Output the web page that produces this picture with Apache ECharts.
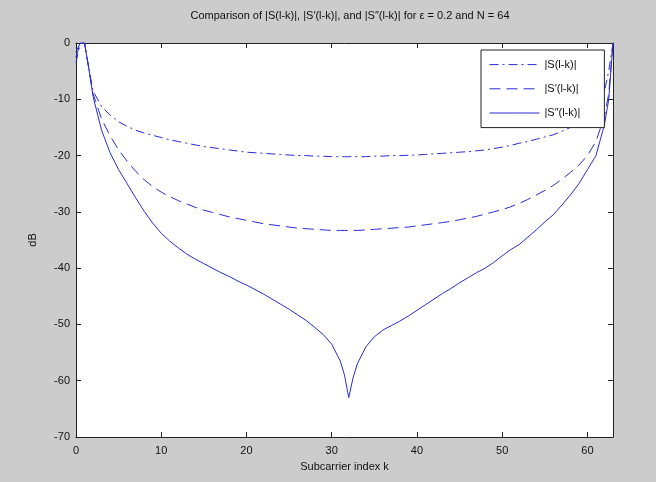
<!DOCTYPE html>
<html lang="en">
<head>
    <meta charset="UTF-8">
    <title>ICI comparison</title>
    <script src="https://cdn.jsdelivr.net/npm/echarts@6/dist/echarts.min.js"></script>
    <style>
        * {
            margin: 0;
            padding: 0;
        }

        #chart {
            width: 656px;
            height: 482px;
            background-color: #cccccc;
        }
    </style>
</head>
<body>
    <div id="chart"></div>
    <script>
        // subcarrier index (a few half steps near the edges where the curves are steep)
        const kIndex = [0, 0.5, 1, 1.5, 2, 3, 4, 5, 6, 7, 8, 9, 10, 11, 12, 13, 14, 15, 16, 17, 18, 19, 20,
            21, 22, 23, 24, 25, 26, 27, 28, 29, 30, 31, 31.5, 32, 32.5, 33, 34, 35, 36, 37, 38, 39, 40,
            41, 42, 43, 44, 45, 46, 47, 48, 49, 50, 51, 52, 53, 54, 55, 56, 57, 58, 59, 60, 61, 62, 62.5, 63]

        // |S(l-k)| in dB
        const sMag = [-3.5, 0, 0, -4.5, -8.5, -11.3, -12.8, -14, -14.8, -15.5, -16, -16.4, -16.8, -17.2, -17.5, -17.8, -18.1, -18.4, -18.6, -18.8, -19, -19.2, -19.4,
            -19.5, -19.6, -19.7, -19.8, -19.9, -20, -20, -20.1, -20.1, -20.2, -20.2, -20.2, -20.2, -20.2, -20.2, -20.2, -20.1, -20.1, -20, -20, -19.95, -19.9,
            -19.8, -19.7, -19.6, -19.5, -19.4, -19.3, -19.15, -19, -18.75, -18.5, -18.2, -17.8, -17.5, -17.1, -16.7, -16.3, -15.7, -15, -14.1, -12.9, -11.3, -8.5, -5, 0]

        // |S'(l-k)| in dB
        const sPrime = [-2.5, 0, 0, -4.5, -9, -13.5, -16.5, -19, -21, -22.8, -24.3, -25.5, -26.5, -27.3, -28, -28.6, -29.2, -29.7, -30.1, -30.5, -30.9, -31.2, -31.5,
            -31.8, -32.1, -32.3, -32.5, -32.7, -32.9, -33, -33.1, -33.2, -33.3, -33.3, -33.3, -33.3, -33.3, -33.3, -33.2, -33.1, -33, -32.9, -32.8, -32.7, -32.5,
            -32.3, -32.1, -31.9, -31.7, -31.4, -31.1, -30.8, -30.4, -30, -29.6, -29.1, -28.5, -27.8, -27, -26.2, -25.3, -24.2, -23, -21.7, -20, -17.5, -13, -9, 0]

        // |S''(l-k)| in dB
        const sDoublePrime = [-1.5, 0, 0, -4.5, -9.5, -15.5, -19.5, -22.5, -25, -27.5, -29.9, -32, -33.8, -35.2, -36.4, -37.5, -38.4, -39.2, -40, -40.8, -41.5, -42.3, -43,
            -43.8, -44.6, -45.5, -46.4, -47.3, -48.3, -49.3, -50.5, -51.8, -53.5, -56.5, -59, -63, -59.5, -57, -54, -52.2, -51, -50.2, -49.4, -48.5, -47.5,
            -46.5, -45.5, -44.5, -43.6, -42.6, -41.7, -40.8, -40, -39, -37.8, -36.7, -35.8, -34.5, -33.2, -31.8, -30.5, -28.8, -27, -25, -22.5, -20, -14.5, -10, 0]

        const seriesNames = ['|S(l-k)|', '|S\u2032(l-k)|', '|S\u2033(l-k)|']
        const xTicks = [0, 63, 10]
        const yTicks = [-70, 0, 10]

        const pairs = vals => kIndex.map((k, i) => [k, vals[i]])

        const blue = '#2b2bd6'
        const labelFont = { color: '#111', fontSize: 11, fontFamily: 'Liberation Sans, Arial, sans-serif' }

        const myChart = echarts.init(document.querySelector('#chart'))

        const boxAxis = {
            axisLine: { show: true, onZero: false, lineStyle: { color: '#222', width: 1 } },
            axisTick: { show: true, inside: true, length: 5, lineStyle: { color: '#222' } },
            splitLine: { show: false }
        }

        const option = {
            animation: false,
            backgroundColor: '#cccccc',
            title: {
                text: 'Comparison of |S(l-k)|, |S\u2032(l-k)|, and |S\u2033(l-k)| for \u03b5 = 0.2 and N = 64',
                left: 345,
                top: 5,
                textAlign: 'center',
                textStyle: { color: '#111', fontSize: 11, fontWeight: 'normal', fontFamily: 'Liberation Sans, Arial, sans-serif' }
            },
            grid: {
                left: 76,
                right: 43,
                top: 43,
                bottom: 45,
                show: true,
                backgroundColor: '#ffffff',
                borderWidth: 0
            },
            legend: {
                orient: 'vertical',
                left: 481,
                top: 50,
                padding: [9, 24, 9, 8],
                itemWidth: 50,
                itemHeight: 14,
                itemGap: 13,
                backgroundColor: '#ffffff',
                borderColor: '#222',
                borderWidth: 1,
                borderRadius: 0,
                itemStyle: { opacity: 0 },
                lineStyle: { width: 1 },
                textStyle: labelFont,
                data: seriesNames
            },
            xAxis: [
                Object.assign({
                    type: 'value',
                    min: xTicks[0],
                    max: xTicks[1],
                    interval: xTicks[2],
                    position: 'bottom',
                    name: 'Subcarrier index k',
                    nameLocation: 'middle',
                    nameGap: 24,
                    nameTextStyle: labelFont,
                    axisLabel: Object.assign({ margin: 8, showMaxLabel: false }, labelFont)
                }, boxAxis),
                Object.assign({
                    type: 'value',
                    min: xTicks[0],
                    max: xTicks[1],
                    interval: xTicks[2],
                    position: 'top',
                    axisLabel: { show: false }
                }, boxAxis)
            ],
            yAxis: [
                Object.assign({
                    type: 'value',
                    min: yTicks[0],
                    max: yTicks[1],
                    interval: yTicks[2],
                    position: 'left',
                    name: 'dB',
                    nameLocation: 'middle',
                    nameGap: 38,
                    nameTextStyle: labelFont,
                    axisLabel: Object.assign({ margin: 6 }, labelFont)
                }, boxAxis),
                Object.assign({
                    type: 'value',
                    min: yTicks[0],
                    max: yTicks[1],
                    interval: yTicks[2],
                    position: 'right',
                    axisLabel: { show: false }
                }, boxAxis)
            ],
            series: [
                {
                    name: seriesNames[0],
                    type: 'line',
                    symbol: 'none',
                    data: pairs(sMag),
                    itemStyle: { color: blue },
                    lineStyle: { color: blue, width: 1, type: [9, 4, 2, 4] }
                },
                {
                    name: seriesNames[1],
                    type: 'line',
                    symbol: 'none',
                    data: pairs(sPrime),
                    itemStyle: { color: blue },
                    lineStyle: { color: blue, width: 1, type: [11, 6] }
                },
                {
                    name: seriesNames[2],
                    type: 'line',
                    symbol: 'none',
                    data: pairs(sDoublePrime),
                    itemStyle: { color: blue },
                    lineStyle: { color: blue, width: 1 }
                }
            ]
        }

        myChart.setOption(option)
    </script>
</body>
</html>
